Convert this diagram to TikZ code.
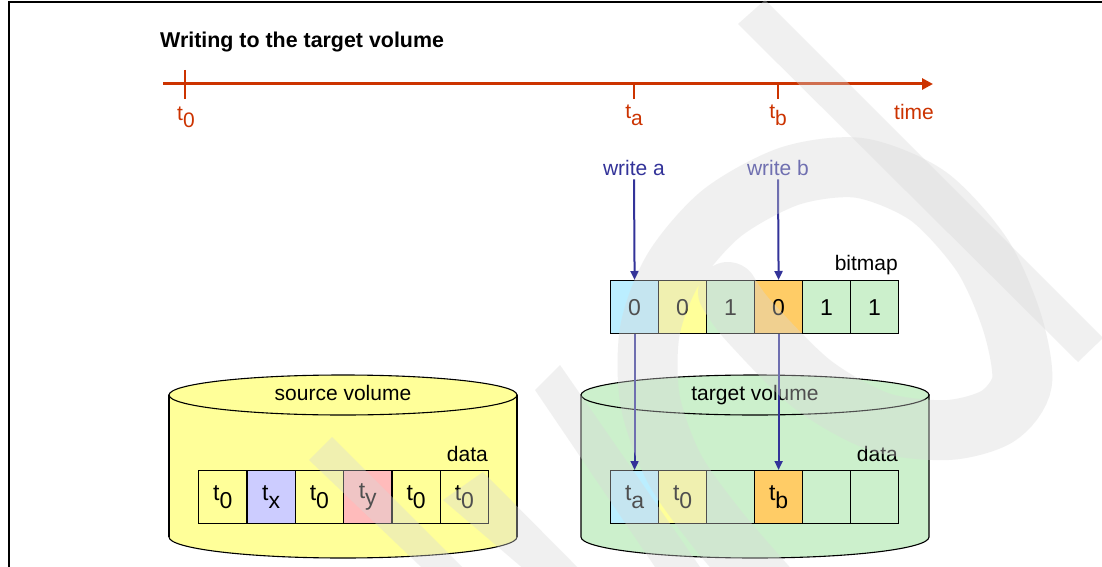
\documentclass[tikz,border=0pt]{standalone}
\usepackage{fontspec}
\setmainfont{Liberation Sans}
\usetikzlibrary{arrows.meta}
\definecolor{tline}{RGB}{204,51,0}
\definecolor{wblue}{RGB}{51,51,153}
\definecolor{yel}{RGB}{255,255,153}
\definecolor{grn}{RGB}{204,240,204}
\definecolor{cyn}{RGB}{187,238,255}
\definecolor{org}{RGB}{255,204,102}
\definecolor{lav}{RGB}{204,204,255}
\definecolor{pnk}{RGB}{255,187,187}
\definecolor{wmark}{RGB}{216,216,216}
% t with a lowered index, as used on the time axis and in the blocks
\newcommand{\tsub}[1]{t\raisebox{-0.32em}{#1}}
\begin{document}
\begin{tikzpicture}[x=1pt,y=1pt,
  lbl/.style={inner sep=0pt, font=\fontsize{21}{25}\selectfont},
  tlab/.style={lbl, text=tline},
  wlab/.style={lbl, text=wblue},
  cell/.style={draw=black, line width=1.2pt, minimum height=53pt,
    inner sep=0pt, anchor=north west, font=\fontsize{23}{27}\selectfont},
  bcell/.style={cell, minimum width=48pt},
  scell/.style={cell, minimum width=48.33pt},
  cyl/.style={draw=black, line width=1.1pt},
  axis/.style={tline, line width=3pt},
  tick/.style={tline, line width=2pt},
  wr/.style={wblue, line width=2pt, -{Triangle[length=9pt,width=8pt]}},
  wm/.style={fill=wmark, fill opacity=0.37, draw=none},
  wmstroke/.style={draw=wmark, draw opacity=0.37, line width=60pt, line cap=round}]

\fill[white] (0,0) rectangle (1102,-567);
\useasboundingbox (0,0) rectangle (1102,-567);

% frame
\coordinate (fa) at (9,-567);
\coordinate (fb) at (9,-2);
\coordinate (fc) at (1102,-2);
\draw[line width=2pt] (fa) -- (fb) -- (fc);

% title
\node[anchor=base west, inner sep=0pt, font=\bfseries\fontsize{21.4}{25}\selectfont]
  (title) at (160,-48) {Writing to the target volume};

% time axis
\coordinate (ax0) at (163,-84);
\coordinate (ax1) at (933,-84);
\draw[axis, -{Triangle[length=11pt,width=11pt]}] (ax0) -- (ax1);
\coordinate (k0a) at (185,-70);  \coordinate (k0b) at (185,-99);
\coordinate (kaa) at (634,-84);  \coordinate (kab) at (634,-99);
\coordinate (kba) at (778,-84);  \coordinate (kbb) at (778,-99);
\draw[tick] (k0a) -- (k0b);
\draw[tick] (kaa) -- (kab);
\draw[tick] (kba) -- (kbb);
\node[tlab, anchor=north] (t0) at (186,-107) {\tsub{0}};
\node[tlab, anchor=north] (ta) at (634,-105) {\tsub{a}};
\node[tlab, anchor=north] (tb) at (778,-105) {\tsub{b}};
\node[tlab, anchor=base] (time) at (914,-120) {time};

% write requests
\node[wlab, anchor=base] (wa) at (634,-175) {write a};
\node[wlab, anchor=base] (wb) at (778,-175) {write b};

% source volume
\path[cyl, fill=yel] (169,-395) -- (169,-537)
  arc[start angle=180, end angle=360, x radius=174, y radius=21]
  -- (517,-395) -- cycle;
\draw[cyl, fill=yel] (343,-395) ellipse[x radius=174, y radius=20];
\draw[cyl] (169,-395) -- (169,-537);
\draw[cyl] (517,-395) -- (517,-537);
\node[lbl, anchor=base] (sv) at (343,-400) {source volume};

% target volume
\path[cyl, fill=grn] (581,-395) -- (581,-537)
  arc[start angle=180, end angle=360, x radius=174, y radius=21]
  -- (929,-395) -- cycle;
\draw[cyl, fill=grn] (755,-395) ellipse[x radius=174, y radius=20];
\node[lbl, anchor=base] (tv) at (755,-400) {target volume};

% source data blocks
\node[scell, fill=yel] (s1) at (198,-470)    {\tsub{0}};
\node[scell, fill=lav] (s2) at (246.33,-470) {\tsub{x}};
\node[scell, fill=yel] (s3) at (294.67,-470) {\tsub{0}};
\node[scell, fill=pnk] (s4) at (343,-470)    {\tsub{y}};
\node[scell, fill=yel] (s5) at (391.33,-470) {\tsub{0}};
\node[scell, fill=yel] (s6) at (439.67,-470) {\tsub{0}};
\node[lbl, anchor=base east] (sdata) at (488,-461) {data};

% target data blocks
\node[bcell, fill=cyn] (d1) at (610,-470) {\tsub{a}};
\node[bcell, fill=yel] (d2) at (658,-470) {\tsub{0}};
\node[bcell, fill=grn] (d3) at (706,-470) {};
\node[bcell, fill=org] (d4) at (754,-470) {\tsub{b}};
\node[bcell, fill=grn] (d5) at (802,-470) {};
\node[bcell, fill=grn] (d6) at (850,-470) {};
\node[lbl, anchor=base east] (tdata) at (898,-461) {data};

% bitmap
\node[bcell, fill=cyn] (b1) at (610,-280) {0};
\node[bcell, fill=yel] (b2) at (658,-280) {0};
\node[bcell, fill=grn] (b3) at (706,-280) {1};
\node[bcell, fill=org] (b4) at (754,-280) {0};
\node[bcell, fill=grn] (b5) at (802,-280) {1};
\node[bcell, fill=grn] (b6) at (850,-280) {1};
\node[lbl, anchor=base east] (bm) at (898,-270) {bitmap};

% write paths
\draw[wr] (wa.south) ++(0,-4) -- (b1.north);
\draw[wr] (wb.south) ++(0,-4) -- (b4.north);
\draw[wr] (b1.south) -- (d1.north);
\draw[wr] (b4.south) -- (d4.north);

% faint lettering laid over the sheet
\begin{scope}
\clip (0,0) rectangle (1102,-567);
\fill[wm] (738,-24) -- (765,0) -- (1103,-338) -- (1078,-362) -- cycle;
\draw[wmstroke] plot[smooth] coordinates {(770,-590) (718,-530) (674,-468)
  (650,-400) (650,-330) (674,-268) (722,-213) (790,-176) (860,-168)
  (928,-196) (982,-255) (1012,-322) (1022,-382) (998,-416) (948,-430)
  (880,-422) (812,-384) (748,-320) (728,-292)};
\fill[wm] (309,-460) -- (332,-437) -- (480,-585) -- (440,-585) -- cycle;
\fill[wm] (443,-500) -- (483,-472) -- (600,-590) -- (560,-600) -- cycle;
\fill[wm] (535,-390) -- (560,-365) -- (700,-567) -- (655,-567) -- cycle;
\end{scope}
\end{tikzpicture}
\end{document}
